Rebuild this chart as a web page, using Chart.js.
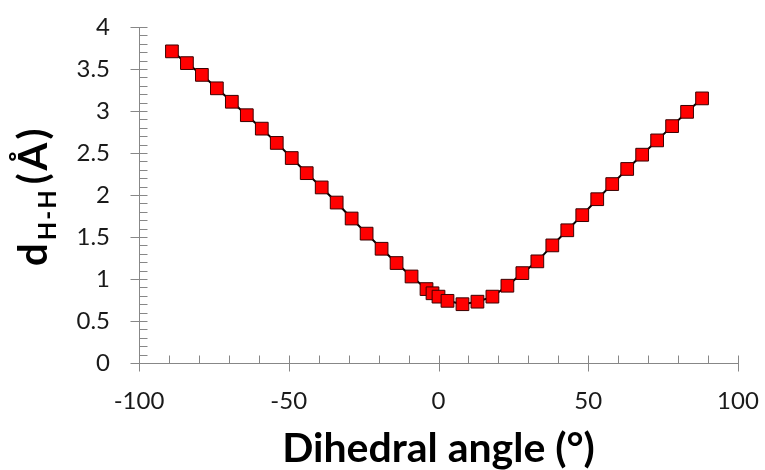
<!DOCTYPE html>
<html><head><meta charset="utf-8">
<script src="https://cdn.jsdelivr.net/npm/chart.js@4/dist/chart.umd.min.js"></script>
<style>html,body{margin:0;padding:0;background:#fff}#wrap{width:765px;height:470px}</style>
</head><body><div id="wrap"><canvas id="c" width="765" height="470"></canvas></div>
<script>
const angles = [-89,-84,-79,-74,-69,-64,-59,-54,-49,-44,-39,-34,-29,-24,-19,-14,-9,-4,-2,0,3,8,13,18,23,28,33,38,43,48,53,58,63,68,73,78,83,88];
const distances = [3.71,3.57,3.43,3.27,3.11,2.95,2.79,2.62,2.44,2.26,2.09,1.91,1.72,1.54,1.36,1.19,1.03,0.88,0.83,0.79,0.74,0.70,0.73,0.79,0.92,1.07,1.21,1.40,1.58,1.76,1.95,2.13,2.31,2.48,2.65,2.82,2.99,3.15];
const xTitle = 'Dihedral angle (°)';
const yTitleMain = 'd', yTitleSub = 'H-H', yTitleUnit = '(Å)';
const xRange = [-100, 100], xMajor = 50, xMinor = 10;
const yRange = [0, 4], yMajor = 0.5, yMinor = 0.1;

const axisColor = '#878787';
const FONT = 'Lato';

const tickPlugin = {
  id: 'excelTicks',
  afterDraw(chart) {
    const {ctx, scales: {x, y}} = chart;
    ctx.save();
    ctx.strokeStyle = axisColor;
    ctx.lineWidth = 1;
    const ax = Math.round(x.getPixelForValue(xRange[0])) + 0.5;
    const ay = Math.round(y.getPixelForValue(yRange[0])) + 0.5;
    ctx.beginPath();
    const ny = Math.round((yRange[1] - yRange[0]) / yMinor);
    for (let i = 0; i <= ny; i++) {
      const v = yRange[0] + i * yMinor;
      const py = Math.round(y.getPixelForValue(v)) + 0.5;
      const major = i % Math.round(yMajor / yMinor) === 0;
      ctx.moveTo(major ? ax - 9 : ax, py);
      ctx.lineTo(ax + 8, py);
    }
    const nx = Math.round((xRange[1] - xRange[0]) / xMinor);
    for (let i = 0; i <= nx; i++) {
      const v = xRange[0] + i * xMinor;
      const px = Math.round(x.getPixelForValue(v)) + 0.5;
      const major = i % Math.round(xMajor / xMinor) === 0;
      ctx.moveTo(px, ay - 8);
      ctx.lineTo(px, major ? ay + 8 : ay);
    }
    ctx.stroke();
    ctx.restore();

    // y-axis title with subscript
    ctx.save();
    const area = chart.chartArea;
    const cy = (area.top + area.bottom) / 2 + 5;
    ctx.fillStyle = '#000';
    ctx.textBaseline = 'alphabetic';
    ctx.textAlign = 'left';
    const fMain = 'bold 40px ' + FONT, fSub = 'bold 24px ' + FONT;
    ctx.translate(47, cy);
    ctx.rotate(-Math.PI / 2);
    let u = -66;
    ctx.font = fMain;
    ctx.fillText(yTitleMain, u, 0);
    u += ctx.measureText(yTitleMain).width + 3;
    ctx.font = fSub;
    ctx.letterSpacing = '2px';
    ctx.fillText(yTitleSub, u, 9);
    u += ctx.measureText(yTitleSub).width + 4;
    ctx.letterSpacing = '3px';
    ctx.font = fMain;
    ctx.fillText(yTitleUnit, u, 0);
    ctx.restore();
  }
};

const fmt = v => String(Number(Number(v).toFixed(2)));

new Chart(document.getElementById('c'), {
  type: 'scatter',
  data: {
    datasets: [{
      data: angles.map((a, i) => ({x: a, y: distances[i]})),
      showLine: true,
      borderColor: '#000',
      borderWidth: 2,
      pointStyle: 'rect',
      pointRadius: 9,
      pointHoverRadius: 9,
      pointBackgroundColor: '#ff0000',
      pointBorderColor: '#3a0000',
      pointBorderWidth: 1
    }]
  },
  options: {
    responsive: false,
    animation: false,
    events: [],
    layout: {padding: {top: 27, right: 27, left: 0, bottom: 0}},
    plugins: {legend: {display: false}, tooltip: {enabled: false}},
    scales: {
      x: {
        type: 'linear', min: xRange[0], max: xRange[1],
        afterFit(s) { s.height = 107; s.paddingLeft = 0; s.paddingRight = 0; },
        grid: {drawOnChartArea: false, drawTicks: false},
        border: {display: true, color: axisColor, width: 1},
        ticks: {stepSize: xMajor, padding: 24, color: '#1a1a1a', font: {family: FONT, size: 24}, callback: fmt},
        title: {display: true, text: xTitle, color: '#000', font: {family: FONT, size: 41, weight: 'bold', lineHeight: 1}, padding: {top: 0, bottom: 1}}
      },
      y: {
        type: 'linear', min: yRange[0], max: yRange[1],
        afterFit(s) { s.width = 139; s.paddingTop = 0; s.paddingBottom = 0; },
        grid: {drawOnChartArea: false, drawTicks: false},
        border: {display: true, color: axisColor, width: 1},
        ticks: {stepSize: yMajor, padding: 29, color: '#1a1a1a', font: {family: FONT, size: 24}, callback: fmt}
      }
    }
  },
  plugins: [tickPlugin]
});
</script></body></html>
